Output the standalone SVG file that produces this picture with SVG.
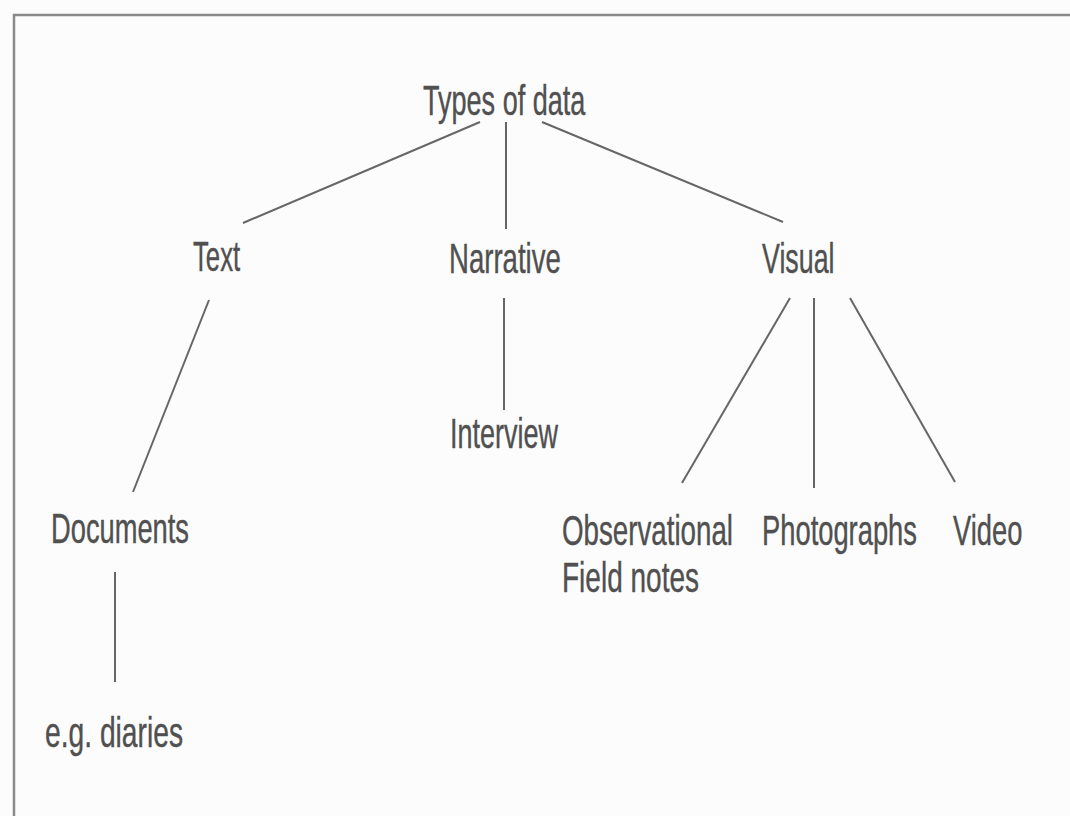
<svg xmlns="http://www.w3.org/2000/svg" width="1070" height="816" viewBox="0 0 1070 816">
<style>
.t{font-family:"Liberation Sans",Arial,sans-serif;font-size:42px;fill:#505050;stroke:#505050;stroke-width:0.4;}
.c line{stroke:#666;stroke-width:2;}
.b{stroke:#8a8a8a;stroke-width:2.5;fill:none;}
</style>
<rect width="1070" height="816" fill="#fcfcfc"/>
<path class="b" d="M14,816 L14,15 L1070,15"/>
<g class="c" id="connectors">
<line x1="480" y1="122" x2="243" y2="223"/>
<line x1="506" y1="122" x2="506" y2="229"/>
<line x1="542" y1="122" x2="783" y2="222"/>
<line x1="209" y1="300" x2="133" y2="492"/>
<line x1="504" y1="298" x2="504" y2="410"/>
<line x1="115" y1="572" x2="115" y2="682"/>
<line x1="790" y1="298" x2="682" y2="483"/>
<line x1="814" y1="298" x2="814" y2="488"/>
<line x1="850" y1="298" x2="955" y2="482"/>
</g>
<g id="types"><text class="t" transform="translate(423,115) scale(0.644,1)">Types of data</text></g>
<g id="text"><text class="t" transform="translate(193,271) scale(0.612,1)">Text</text></g>
<g id="narrative"><text class="t" transform="translate(449,273) scale(0.657,1)">Narrative</text></g>
<g id="visual"><text class="t" transform="translate(762,273) scale(0.638,1)">Visual</text></g>
<g id="interview"><text class="t" transform="translate(450,448) scale(0.643,1)">Interview</text></g>
<g id="documents"><text class="t" transform="translate(51,543) scale(0.65,1)">Documents</text></g>
<g id="diaries"><text class="t" transform="translate(45,747) scale(0.672,1)">e.g. diaries</text></g>
<g id="observational"><text class="t" transform="translate(562,545) scale(0.66,1)">Observational</text><text class="t" transform="translate(562,592) scale(0.667,1)">Field notes</text></g>
<g id="photographs"><text class="t" transform="translate(762,545) scale(0.651,1)">Photographs</text></g>
<g id="video"><text class="t" transform="translate(953,545) scale(0.652,1)">Video</text></g>
</svg>
